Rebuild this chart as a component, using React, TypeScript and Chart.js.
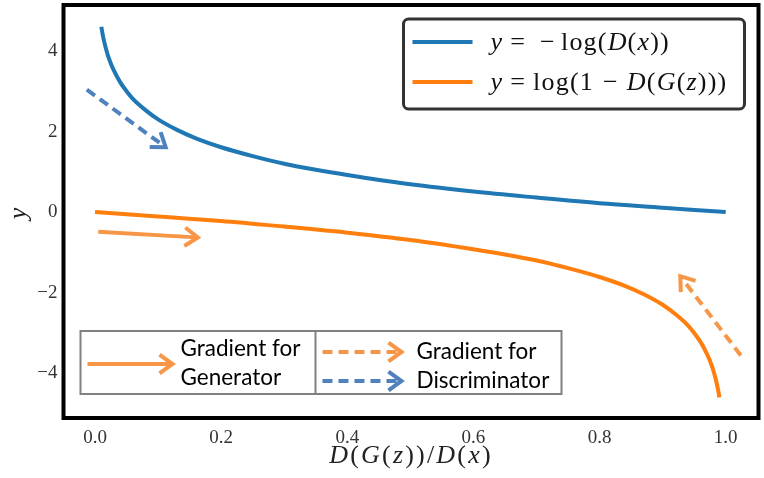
import React, { useEffect, useRef } from "react";
import { Chart, registerables } from "chart.js";

Chart.register(...registerables);

// ---- data ----
const blueX = [0.01, 0.012, 0.015, 0.02, 0.025, 0.03, 0.04, 0.05, 0.06, 0.08, 0.1, 0.13, 0.16, 0.2, 0.25, 0.3, 0.35, 0.4, 0.5, 0.6, 0.7, 0.8, 0.9, 1.0];
const blueY = [4.6, 4.42, 4.2, 3.91, 3.69, 3.51, 3.22, 3.0, 2.81, 2.53, 2.3, 2.04, 1.83, 1.61, 1.39, 1.2, 1.05, 0.92, 0.69, 0.51, 0.36, 0.22, 0.11, 0.0];
const orangeX = [0.0, 0.1, 0.2, 0.3, 0.4, 0.5, 0.6, 0.65, 0.7, 0.75, 0.8, 0.84, 0.87, 0.9, 0.92, 0.94, 0.95, 0.96, 0.97, 0.975, 0.98, 0.985, 0.988, 0.99];
const orangeY = [0.0, -0.11, -0.22, -0.36, -0.51, -0.69, -0.92, -1.05, -1.2, -1.39, -1.61, -1.83, -2.04, -2.3, -2.53, -2.81, -3.0, -3.22, -3.51, -3.69, -3.91, -4.2, -4.42, -4.6];
const xTicks = [0.0, 0.2, 0.4, 0.6, 0.8, 1.0];
const yTicks = [-4, -2, 0, 2, 4];
const seriesLabels = ["y = −log(D(x))", "y = log(1 − D(G(z)))"];
// annotation arrows in data units: [x1, y1, x2, y2]
const arrowDiscriminator = [-0.013, 3.04, 0.112, 1.61];
const arrowGenerator = [0.005, -0.49, 0.163, -0.63];
const arrowGeneratorOld = [1.024, -3.56, 0.928, -1.59];
const gradientLabels = ["Gradient for", "Generator", "Gradient for", "Discriminator"];

const BLUE = "#1f77b4";
const ORANGE = "#ff7f0e";
const ARROW_ORANGE = "#F79646";
const ARROW_BLUE = "#4F81BD";
const SERIF = '"Liberation Serif", "DejaVu Serif", serif';
const SANS = 'Lato, "Open Sans", sans-serif';

// [text, italic, gap before (px)]
type Seg = [string, boolean, number?];

function drawMath(ctx: CanvasRenderingContext2D, segs: Seg[], x: number, y: number, size: number, align: "left" | "center", spacing = 0) {
  const fontFor = (it: boolean) => `${it ? "italic " : ""}${size}px ${SERIF}`;
  (ctx as any).letterSpacing = `${spacing}px`;
  let total = 0;
  for (const [t, it, gap] of segs) {
    ctx.font = fontFor(it);
    total += ctx.measureText(t).width + (gap || 0);
  }
  let cx = align === "center" ? x - total / 2 : x;
  ctx.textAlign = "left";
  ctx.textBaseline = "middle";
  for (const [t, it, gap] of segs) {
    cx += gap || 0;
    ctx.font = fontFor(it);
    ctx.fillText(t, cx, y);
    cx += ctx.measureText(t).width;
  }
  (ctx as any).letterSpacing = "0px";
}

function drawArrow(ctx: CanvasRenderingContext2D, x1: number, y1: number, x2: number, y2: number, color: string, dashed: boolean, width = 4) {
  const ang = Math.atan2(y2 - y1, x2 - x1);
  ctx.save();
  ctx.strokeStyle = color;
  ctx.lineWidth = width;
  ctx.lineCap = "butt";
  ctx.setLineDash(dashed ? [10, 6] : []);
  ctx.beginPath();
  ctx.moveTo(x1, y1);
  ctx.lineTo(x2 - Math.cos(ang) * 2, y2 - Math.sin(ang) * 2);
  ctx.stroke();
  ctx.setLineDash([]);
  const hl = 16;
  const ha = 0.62;
  ctx.lineJoin = "miter";
  ctx.beginPath();
  ctx.moveTo(x2 - hl * Math.cos(ang - ha), y2 - hl * Math.sin(ang - ha));
  ctx.lineTo(x2, y2);
  ctx.lineTo(x2 - hl * Math.cos(ang + ha), y2 - hl * Math.sin(ang + ha));
  ctx.stroke();
  ctx.restore();
}

const overlayPlugin = {
  id: "overlay",
  beforeDraw(chart: any) {
    const ctx = chart.ctx as CanvasRenderingContext2D;
    ctx.save();
    ctx.fillStyle = "#ffffff";
    ctx.fillRect(0, 0, chart.width, chart.height);
    ctx.restore();
  },
  afterDatasetsDraw(chart: any) {
    const ctx = chart.ctx as CanvasRenderingContext2D;
    const xs = chart.scales.x;
    const ys = chart.scales.y;
    const ca = chart.chartArea;
    const px = (v: number) => xs.getPixelForValue(v);
    const py = (v: number) => ys.getPixelForValue(v);

    // data-space arrows
    const a = arrowDiscriminator;
    drawArrow(ctx, px(a[0]), py(a[1]), px(a[2]), py(a[3]), ARROW_BLUE, true);
    const g = arrowGenerator;
    drawArrow(ctx, px(g[0]), py(g[1]), px(g[2]), py(g[3]), ARROW_ORANGE, false);
    const o = arrowGeneratorOld;
    drawArrow(ctx, px(o[0]), py(o[1]), px(o[2]), py(o[3]), ARROW_ORANGE, true);

    // series legend (upper right)
    ctx.save();
    const lx = ca.left + 340, ly = ca.top + 14, lw = 341, lh = 90;
    ctx.beginPath();
    (ctx as any).roundRect(lx, ly, lw, lh, 5);
    ctx.fillStyle = "#ffffff";
    ctx.fill();
    ctx.lineWidth = 3;
    ctx.strokeStyle = "#333333";
    ctx.stroke();
    const rows: { color: string; segs: Seg[]; y: number }[] = [
      {
        color: BLUE,
        y: ly + 23,
        segs: [["y", true], ["=", false, 7], ["−", false, 14], ["log(", false, 5], ["D", true], ["(", false], ["x", true], ["))", false]],
      },
      {
        color: ORANGE,
        y: ly + 63,
        segs: [["y", true], ["=", false, 7], ["log(1", false, 7], ["−", false, 9], ["D", true, 8], ["(", false], ["G", true], ["(", false], ["z", true], [")))", false]],
      },
    ];
    for (const r of rows) {
      ctx.strokeStyle = r.color;
      ctx.lineWidth = 4;
      ctx.beginPath();
      ctx.moveTo(lx + 9, r.y);
      ctx.lineTo(lx + 69, r.y);
      ctx.stroke();
      ctx.fillStyle = "#111111";
      drawMath(ctx, r.segs, lx + 87, r.y + 1, 26, "left", 1.2);
    }
    ctx.restore();

    // gradient legend (lower left)
    ctx.save();
    const bx = ca.left + 17, by = ca.top + 326, bw = 481, bh = 63, div = 235;
    ctx.fillStyle = "#ffffff";
    ctx.fillRect(bx, by, bw, bh);
    ctx.strokeStyle = "#808080";
    ctx.lineWidth = 2;
    ctx.strokeRect(bx, by, bw, bh);
    ctx.beginPath();
    ctx.moveTo(bx + div, by);
    ctx.lineTo(bx + div, by + bh);
    ctx.stroke();
    drawArrow(ctx, bx + 7, by + 33, bx + 92, by + 33, ARROW_ORANGE, false);
    drawArrow(ctx, bx + div + 7, by + 21, bx + div + 86, by + 21, ARROW_ORANGE, true);
    drawArrow(ctx, bx + div + 7, by + 50, bx + div + 86, by + 50, ARROW_BLUE, true);
    ctx.fillStyle = "#000000";
    ctx.font = `22.5px ${SANS}`;
    ctx.textAlign = "left";
    ctx.textBaseline = "middle";
    ctx.fillText(gradientLabels[0], bx + 100, by + 18);
    ctx.fillText(gradientLabels[1], bx + 100, by + 47);
    ctx.fillText(gradientLabels[2], bx + div + 101, by + 21);
    ctx.fillText(gradientLabels[3], bx + div + 101, by + 50);
    ctx.restore();

    // frame
    ctx.save();
    ctx.strokeStyle = "#000000";
    ctx.lineWidth = 4;
    ctx.strokeRect(ca.left, ca.top, ca.right - ca.left, ca.bottom - ca.top);
    ctx.restore();
  },
  afterDraw(chart: any) {
    const ctx = chart.ctx as CanvasRenderingContext2D;
    const ca = chart.chartArea;
    ctx.save();
    ctx.fillStyle = "#222222";
    drawMath(
      ctx,
      [["D", true], ["(", false], ["G", true], ["(", false], ["z", true], ["))/", false], ["D", true], ["(", false], ["x", true], [")", false]],
      (ca.left + ca.right) / 2,
      456,
      26,
      "center",
      2.2
    );
    ctx.translate(19, (ca.top + ca.bottom) / 2 + 2);
    ctx.rotate(-Math.PI / 2);
    drawMath(ctx, [["y", true]], 0, 0, 26, "center");
    ctx.restore();
  },
};

export default function App() {
  const ref = useRef<HTMLCanvasElement | null>(null);
  useEffect(() => {
    document.body.style.margin = "0";
    const canvas = ref.current;
    if (!canvas) return;
    const chart = new Chart(canvas, {
      type: "line",
      data: {
        datasets: [
          {
            label: seriesLabels[0],
            data: blueX.map((x, i) => ({ x, y: blueY[i] })),
            borderColor: BLUE,
            borderWidth: 4,
            pointRadius: 0,
            cubicInterpolationMode: "monotone",
            fill: false,
          },
          {
            label: seriesLabels[1],
            data: orangeX.map((x, i) => ({ x, y: orangeY[i] })),
            borderColor: ORANGE,
            borderWidth: 4,
            pointRadius: 0,
            cubicInterpolationMode: "monotone",
            fill: false,
          },
        ],
      },
      options: {
        animation: false,
        responsive: false,
        devicePixelRatio: 1,
        layout: { padding: { top: 5, right: 5.5, left: 0, bottom: 0 } },
        plugins: { legend: { display: false }, tooltip: { enabled: false } },
        scales: {
          x: {
            type: "linear",
            min: -0.05,
            max: 1.052,
            grid: { display: false, drawTicks: false },
            border: { display: false },
            afterFit: (s: any) => { s.height = 60; s.paddingLeft = 0; s.paddingRight = 0; },
            afterBuildTicks: (s: any) => { s.ticks = xTicks.map((v) => ({ value: v })); },
            ticks: {
              padding: 9,
              color: "#333333",
              font: { family: SERIF, size: 19 },
              maxRotation: 0,
              callback: (v: any) => Number(v).toFixed(1),
            },
          },
          y: {
            type: "linear",
            min: -5.11,
            max: 5.14,
            grid: { display: false, drawTicks: false },
            border: { display: false },
            afterFit: (s: any) => { s.width = 63.5; s.paddingTop = 0; s.paddingBottom = 0; },
            afterBuildTicks: (s: any) => { s.ticks = yTicks.map((v) => ({ value: v })); },
            ticks: {
              padding: 6,
              color: "#333333",
              font: { family: SERIF, size: 19 },
              callback: (v: any) => (Number(v) < 0 ? "−" + Math.abs(Number(v)) : String(v)),
            },
          },
        },
      } as any,
      plugins: [overlayPlugin],
    });
    return () => chart.destroy();
  }, []);
  return (
    <div style={{ width: 764, height: 478, position: "relative" }}>
      <canvas ref={ref} width={764} height={478} style={{ width: 764, height: 478, display: "block" }} />
    </div>
  );
}
